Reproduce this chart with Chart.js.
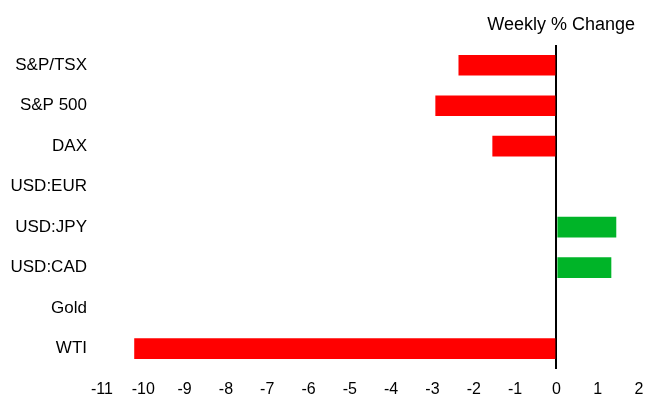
<!DOCTYPE html>
<html>
<head>
<meta charset="utf-8">
<script src="https://cdn.jsdelivr.net/npm/chart.js@4/dist/chart.umd.min.js"></script>
<style>
  html, body { margin: 0; padding: 0; background: #ffffff; }
  #wrap { width: 645px; height: 399px; }
</style>
</head>
<body>
<div id="wrap"><canvas id="c" width="645" height="399"></canvas></div>
<script>
const categories = ["S&P/TSX", "S&P 500", "DAX", "USD:EUR", "USD:JPY", "USD:CAD", "Gold", "WTI"];
const weeklyChange = [-2.37, -2.93, -1.55, 0, 1.45, 1.33, 0, -10.22];
const xTicks = [-11, -10, -9, -8, -7, -6, -5, -4, -3, -2, -1, 0, 1, 2];
const titleText = "Weekly % Change";

const FONT = "'Liberation Sans', Arial, sans-serif";

const titlePlugin = {
  id: 'cornerTitle',
  afterDraw(chart) {
    const ctx = chart.ctx;
    ctx.save();
    ctx.font = "18px " + FONT;
    ctx.fillStyle = '#000000';
    ctx.textAlign = 'right';
    ctx.textBaseline = 'alphabetic';
    ctx.fillText(titleText, 635, 30);
    ctx.restore();
  }
};

new Chart(document.getElementById('c'), {
  type: 'bar',
  data: {
    labels: categories,
    datasets: [{
      data: weeklyChange,
      backgroundColor: weeklyChange.map(v => v < 0 ? '#FF0000' : '#00B428'),
      borderWidth: 0,
      barPercentage: 0.51,
      categoryPercentage: 1.0
    }]
  },
  plugins: [titlePlugin],
  options: {
    indexAxis: 'y',
    responsive: false,
    animation: false,
    devicePixelRatio: 1,
    layout: { padding: { left: 0, right: 6, top: 45, bottom: 0 } },
    plugins: {
      legend: { display: false },
      tooltip: { enabled: false },
      title: { display: false }
    },
    scales: {
      x: {
        type: 'linear',
        min: xTicks[0],
        max: xTicks[xTicks.length - 1],
        afterBuildTicks: (scale) => { scale.ticks = xTicks.map(v => ({ value: v })); },
        border: { display: false },
        grid: {
          drawTicks: true,
          tickLength: 11,
          tickColor: 'rgba(0,0,0,0)',
          lineWidth: 2,
          color: (ctx) => (ctx.tick && ctx.tick.value === 0) ? '#000000' : 'rgba(0,0,0,0)'
        },
        ticks: {
          padding: 0,
          color: '#000000',
          font: { family: FONT, size: 16 },
          maxRotation: 0,
          autoSkip: false
        }
      },
      y: {
        border: { display: false },
        grid: { display: false, drawTicks: false },
        afterFit: (scale) => { scale.width = 102; },
        ticks: {
          padding: 15,
          color: '#000000',
          font: { family: FONT, size: 17 },
          autoSkip: false
        }
      }
    }
  }
});
</script>
</body>
</html>
